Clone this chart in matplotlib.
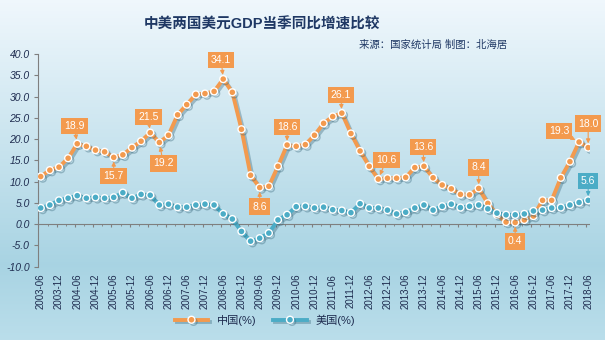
import matplotlib
matplotlib.use("Agg")
import matplotlib.pyplot as plt
import matplotlib.patheffects as pe
import numpy as np

plt.rcParams['font.family'] = ['Liberation Sans', 'Noto Sans CJK SC', 'DejaVu Sans']

# quarters 2003-06 .. 2018-06
quarters = [f"{y}-{m:02d}" for y in range(2003, 2019) for m in (3, 6, 9, 12)][1:62]

china = [11.2, 12.7, 13.4, 15.5, 18.9, 18.3, 17.4, 17.0, 15.7, 16.3,
         18.0, 19.5, 21.5, 19.2, 20.9, 25.7, 28.1, 30.5, 30.7, 31.2,
         34.1, 31.0, 22.3, 11.5, 8.6, 8.9, 13.6, 18.6, 18.3, 18.7,
         20.9, 23.7, 25.3, 26.1, 21.3, 17.2, 13.6, 10.6, 10.8, 10.8,
         11.0, 13.3, 13.6, 10.9, 9.2, 8.3, 7.0, 6.9, 8.4, 4.9,
         2.2, 0.5, 0.4, 1.0, 1.9, 5.6, 5.6, 10.9, 14.7, 19.3, 18.0]

usa = [3.8, 4.5, 5.6, 6.1, 6.7, 6.1, 6.3, 6.1, 6.3, 7.4,
       6.1, 7.0, 6.8, 4.5, 4.7, 4.0, 4.0, 4.5, 4.7, 4.5,
       2.4, 1.2, -1.7, -4.0, -3.3, -2.1, 1.0, 2.2, 4.1, 4.2,
       3.8, 4.0, 3.4, 3.2, 2.7, 4.8, 3.8, 3.8, 3.3, 2.4,
       2.8, 3.8, 4.5, 3.3, 4.2, 4.7, 3.9, 4.2, 4.5, 3.6,
       2.6, 2.2, 2.2, 2.4, 3.1, 3.3, 3.8, 3.9, 4.5, 5.1, 5.6]

# labelled points: (series, index, dx px, dy px)
china_labels = [(4, -3, 18), (8, 0, -19), (12, -2, 16), (13, 4, -21),
                (20, -2, 19), (24, 0, -19), (27, 0, 18), (33, -1, 18),
                (37, 8, 19), (42, -1, 19), (48, 0, 21), (52, 0, -19),
                (59, -20, 11), (60, 0, 24)]
usa_labels = [(60, 0, 19)]

orange = '#F39A4E'
teal = '#4BACC6'
dark = '#1F2D50'

fig = plt.figure(figsize=(6.05, 3.4), dpi=100)

# background gradient
bg = fig.add_axes([0, 0, 1, 1], zorder=-10)
grad = np.linspace(0, 1, 256)
top = np.array([0.94, 0.97, 0.99])
mid = np.array([0.66, 0.83, 0.89])
bot = np.array([0.73, 0.87, 0.92])
cols = np.where(grad[:, None] < 0.78,
                top + (mid - top) * (grad[:, None] / 0.78),
                mid + (bot - mid) * ((grad[:, None] - 0.78) / 0.22))
bg.imshow(cols[:, None, :], aspect='auto', extent=[0, 1, 0, 1])
bg.axis('off')

ax = fig.add_axes([38 / 605, 1 - 266.7 / 340, (590 - 38) / 605, (266.7 - 54) / 340])
ax.patch.set_alpha(0)

x = np.arange(len(china))
shadow = [pe.SimpleLineShadow(offset=(1.5, -1.5), shadow_color='#2f5f73', alpha=0.35), pe.Normal()]
ax.plot(x, china, color=orange, lw=2.8, marker='o', ms=5, mfc=orange, mec='white', mew=1.0,
        label='中国(%)', path_effects=shadow, zorder=3)
ax.plot(x, usa, color=teal, lw=2.8, marker='o', ms=5, mfc=teal, mec='white', mew=1.0,
        label='美国(%)', path_effects=shadow, zorder=3)

ax.set_ylim(-10, 40)
ax.set_xlim(-0.3, 60.2)
ax.set_yticks(np.arange(-10, 41, 5))
ax.set_yticklabels([f"{v:.1f}" for v in np.arange(-10, 41, 5)], fontstyle='italic',
                   fontsize=7.5, color=dark)
ax.tick_params(axis='y', length=3, color='#7f7f7f', pad=3)
ax.set_xticks(x[::2])
ax.set_xticklabels(quarters[::2], rotation=90, fontsize=7, color=dark)
ax.tick_params(axis='x', length=0, pad=5)
for s in ['top', 'right', 'bottom']:
    ax.spines[s].set_visible(False)
ax.spines['left'].set_color('#7f7f7f')
ax.axhline(0, color='#7f7f7f', lw=0.8, zorder=1)
ax.vlines(x[::2] - 0.25, -0.7, 0, color='#7f7f7f', lw=0.8, zorder=1)
ax.vlines(x[1::2] - 0.25, -0.4, 0, color='#7f7f7f', lw=0.6, zorder=1)


def tag(series, idx, dx, dy, color):
    ax.annotate(f"{series[idx]:.1f}", (idx, series[idx]), xytext=(dx, dy),
                textcoords='offset pixels', ha='center', va='center',
                fontsize=7.5, color='white', zorder=5,
                bbox=dict(boxstyle='square,pad=0.3', fc=color, ec='none'),
                arrowprops=dict(arrowstyle='-|>', color=color, lw=0.8,
                                mutation_scale=6, shrinkA=0, shrinkB=3))


for idx, dx, dy in china_labels:
    tag(china, idx, dx, dy, orange)
for idx, dx, dy in usa_labels:
    tag(usa, idx, dx, dy, teal)

fig.text(0.433, 0.926, '中美两国美元GDP当季同比增速比较', ha='center', va='center',
         fontsize=10.5, fontweight='bold', color='#1F3864')
fig.text(0.838, 0.868, '来源：国家统计局 制图：北海居', ha='right', va='center',
         fontsize=7.5, fontstyle='italic', color='#1F3864')

fig.legend(loc='center', bbox_to_anchor=(0.438, 0.059), ncol=2, frameon=False,
           fontsize=8, handlelength=3, columnspacing=1.5, labelcolor=dark)

fig.savefig('out.png', dpi=100)
